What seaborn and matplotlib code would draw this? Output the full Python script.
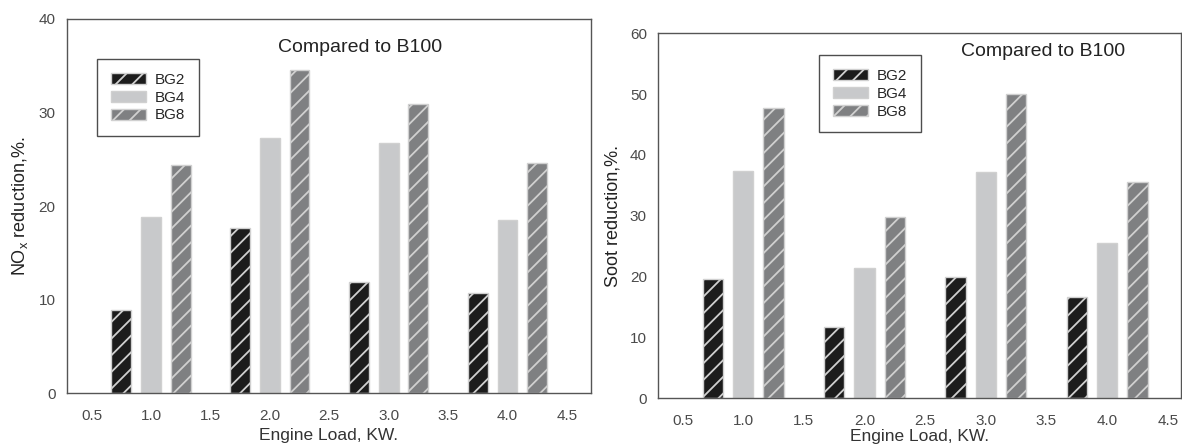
import numpy as np
import pandas as pd
import matplotlib
matplotlib.use("Agg")
import matplotlib.pyplot as plt
import seaborn as sns

loads = [1.0, 2.0, 3.0, 4.0]
blends = ["BG2", "BG4", "BG8"]
nox_bg2 = [8.9, 17.7, 11.9, 10.7]
nox_bg4 = [18.8, 27.3, 26.8, 18.5]
nox_bg8 = [24.4, 34.6, 30.9, 24.6]
soot_bg2 = [19.6, 11.7, 19.9, 16.6]
soot_bg4 = [37.4, 21.4, 37.2, 25.5]
soot_bg8 = [47.8, 29.8, 50.0, 35.6]
x_ticks = [0.5, 1.0, 1.5, 2.0, 2.5, 3.0, 3.5, 4.0, 4.5]

sns.set_theme(style="white")
plt.rcParams['font.family'] = ['Liberation Sans', 'DejaVu Sans']
plt.rcParams['mathtext.fontset'] = 'custom'
plt.rcParams['mathtext.rm'] = 'Liberation Sans'
plt.rcParams['mathtext.it'] = 'Liberation Sans'
plt.rcParams['hatch.linewidth'] = 1.3

def long_df(a, b, c):
    rows = []
    for name, vals in zip(blends, [a, b, c]):
        for l, v in zip(loads, vals):
            rows.append({"load": l, "value": v, "blend": name})
    return pd.DataFrame(rows)

df_nox = long_df(nox_bg2, nox_bg4, nox_bg8)
df_soot = long_df(soot_bg2, soot_bg4, soot_bg8)

fills = ["#1c1c1c", "#c8c9cb", "#7f8082"]
hatches = ["//", "", "//"]
edge = "#d0d0d0"
tick_col = "#4a4a4a"
spine_col = "#555555"

fig = plt.figure(figsize=(11.82, 4.48), dpi=100)
ax1 = fig.add_axes([0.0564, 0.122, 0.4433, 0.8356])
ax2 = fig.add_axes([0.5567, 0.111, 0.4425, 0.8146])

def draw(ax, df, ylim, yticks, ylabel, xlim, leg_anchor, title_pos, xpad):
    sns.barplot(data=df, x="load", y="value", hue="blend", native_scale=True,
                width=0.75, gap=0.33, palette=fills, edgecolor=edge, linewidth=1.0,
                errorbar=None, legend=False, ax=ax)
    for cont, h in zip(ax.containers, hatches):
        for p in cont.patches:
            p.set_hatch(h)
    ax.set_xlim(*xlim)
    ax.set_ylim(*ylim)
    ax.set_xticks(x_ticks)
    ax.set_xticklabels([f"{t:.1f}" for t in x_ticks])
    ax.set_yticks(yticks)
    ax.tick_params(axis="both", direction="out", length=4, width=1,
                   color=spine_col, labelcolor=tick_col, labelsize=11, pad=4)
    ax.tick_params(axis="x", pad=7)
    for s in ax.spines.values():
        s.set_color(spine_col)
        s.set_linewidth(1.0)
    ax.set_xlabel("Engine Load, KW.", fontsize=12.5, color="#333333", labelpad=xpad)
    ax.set_ylabel(ylabel, fontsize=13, color="#222222", labelpad=6)
    leg = ax.legend(handles=ax.containers, labels=blends, loc="upper left",
                    bbox_to_anchor=leg_anchor, borderaxespad=0, fontsize=11,
                    frameon=True, fancybox=False, handlelength=2.3, handleheight=0.75,
                    labelspacing=0.25, handletextpad=0.6, borderpad=0.9)
    leg.get_frame().set_edgecolor("#222222")
    leg.get_frame().set_linewidth(1.0)
    ax.text(title_pos[0], title_pos[1], "Compared to B100", transform=ax.transAxes,
            ha="center", va="center", fontsize=14, color="#222222")

draw(ax1, df_nox, (0, 40), [0, 10, 20, 30, 40], r"NO$_\mathregular{x}$ reduction,%.",
     (0.29, 4.70), (0.058, 0.893), (0.56, 0.925), 4)
draw(ax2, df_soot, (0, 60), [0, 10, 20, 30, 40, 50, 60], "Soot reduction,%.",
     (0.297, 4.61), (0.308, 0.940), (0.736, 0.949), 1)

fig.savefig("out.png", dpi=100)
